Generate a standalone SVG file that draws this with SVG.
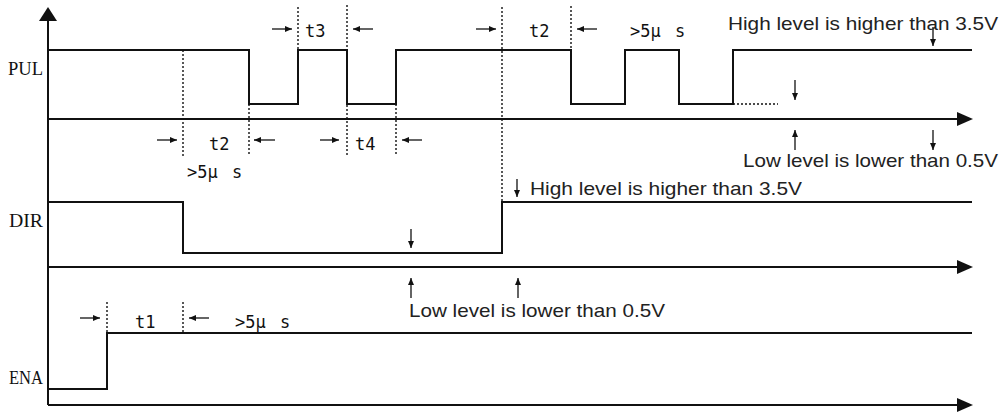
<svg xmlns="http://www.w3.org/2000/svg" width="1005" height="413" viewBox="0 0 1005 413">
<defs>
<marker id="ah" markerUnits="userSpaceOnUse" markerWidth="8" markerHeight="7" refX="7" refY="3.5" orient="auto">
<path d="M0,0.5 L7,3.5 L0,6.5 z" fill="#111"/>
</marker>
<style>
.wave{fill:none;stroke:#111;stroke-width:2}
.axis{fill:none;stroke:#111;stroke-width:2}
.head{fill:#111}
.dot{fill:none;stroke:#111;stroke-width:1.4;stroke-dasharray:2 2}
.arr{fill:none;stroke:#111;stroke-width:1.3;marker-end:url(#ah)}
.sig{font-family:"Liberation Serif","DejaVu Serif",serif;font-size:18px;fill:#111}
.tl{font-family:"DejaVu Sans Mono","Liberation Mono",monospace;font-size:17px;fill:#111}
.note{font-family:"Liberation Sans","Noto Sans",sans-serif;font-size:19px;fill:#222}
</style>
</defs>
<rect width="1005" height="413" fill="#fff"/>

<g id="axes">
<line class="axis" x1="48" y1="18" x2="48" y2="405"/>
<polygon class="head" points="48,7 39,21 57,21"/>
<line class="axis" x1="48" y1="119" x2="960" y2="119"/>
<polygon class="head" points="973,119 957,112 957,126"/>
<line class="axis" x1="48" y1="267" x2="960" y2="267"/>
<polygon class="head" points="973,267 957,260 957,274"/>
<line class="axis" x1="48" y1="405" x2="960" y2="405"/>
<polygon class="head" points="973,405 957,398 957,412"/>
</g>

<g id="pul">
<text class="sig" x="8" y="75" textLength="35" lengthAdjust="spacingAndGlyphs">PUL</text>
<path class="wave" d="M48,50 H249 V104 H298 V50 H347 V104 H396 V50 H571 V104 H625 V50 H679 V104 H733 V50 H972"/>
<line class="dot" x1="733" y1="104" x2="778" y2="104"/>
</g>

<g id="dir">
<text class="sig" x="9" y="227" textLength="34" lengthAdjust="spacingAndGlyphs">DIR</text>
<path class="wave" d="M48,202 H183 V253 H502 V202 H972"/>
</g>

<g id="ena">
<text class="sig" x="9" y="384" textLength="34" lengthAdjust="spacingAndGlyphs">ENA</text>
<path class="wave" d="M48,389 H107 V333 H972"/>
</g>

<g id="connectors">
<line class="dot" x1="183" y1="50" x2="183" y2="156"/>
<line class="dot" x1="249" y1="104" x2="249" y2="156"/>
<line class="dot" x1="298" y1="7" x2="298" y2="50"/>
<line class="dot" x1="347" y1="5" x2="347" y2="156"/>
<line class="dot" x1="396" y1="104" x2="396" y2="156"/>
<line class="dot" x1="502" y1="7" x2="502" y2="202"/>
<line class="dot" x1="571" y1="6" x2="571" y2="50"/>
<line class="dot" x1="107" y1="302" x2="107" y2="333"/>
<line class="dot" x1="183" y1="302" x2="183" y2="333"/>

<line class="arr" x1="272" y1="29" x2="292" y2="29"/>
<line class="arr" x1="373" y1="29" x2="353" y2="29"/>
<line class="arr" x1="157" y1="140" x2="177" y2="140"/>
<line class="arr" x1="275" y1="140" x2="254" y2="140"/>
<line class="arr" x1="320" y1="140" x2="339" y2="140"/>
<line class="arr" x1="422" y1="140" x2="402" y2="140"/>
<line class="arr" x1="476" y1="29" x2="496" y2="29"/>
<line class="arr" x1="597" y1="29" x2="577" y2="29"/>
<line class="arr" x1="80" y1="318" x2="100" y2="318"/>
<line class="arr" x1="209" y1="318" x2="189" y2="318"/>

<line class="arr" x1="933" y1="27" x2="933" y2="46"/>
<line class="arr" x1="795" y1="80" x2="795" y2="100"/>
<line class="arr" x1="795" y1="150" x2="795" y2="130"/>
<line class="arr" x1="933" y1="130" x2="933" y2="150"/>
<line class="arr" x1="517" y1="179" x2="517" y2="197"/>
<line class="arr" x1="411" y1="229" x2="411" y2="248"/>
<line class="arr" x1="411" y1="298" x2="411" y2="278"/>
<line class="arr" x1="518" y1="298" x2="518" y2="278"/>
</g>

<g id="labels">
<text class="tl" x="305" y="37">t3</text>
<text class="tl" x="209" y="150">t2</text>
<text class="tl" x="187" y="178">&gt;5μ <tspan dx="4">s</tspan></text>
<text class="tl" x="355" y="150">t4</text>
<text class="tl" x="529" y="37">t2</text>
<text class="tl" x="630" y="37">&gt;5μ <tspan dx="4">s</tspan></text>
<text class="tl" x="135" y="328">t1</text>
<text class="tl" x="235" y="328">&gt;5μ <tspan dx="4">s</tspan></text>

<text class="note" x="728" y="30" textLength="270" lengthAdjust="spacingAndGlyphs">High level is higher than 3.5V</text>
<text class="note" x="743" y="167" textLength="255" lengthAdjust="spacingAndGlyphs">Low level is lower than 0.5V</text>
<text class="note" x="530" y="195" textLength="272" lengthAdjust="spacingAndGlyphs">High level is higher than 3.5V</text>
<text class="note" x="409" y="317" textLength="256" lengthAdjust="spacingAndGlyphs">Low level is lower than 0.5V</text>
</g>
</svg>
